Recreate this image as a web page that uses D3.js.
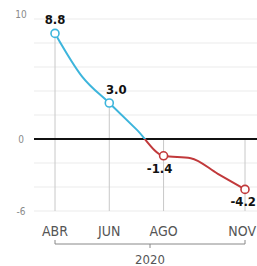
<!DOCTYPE html>
<html>
<head>
<meta charset="utf-8">
<script src="https://cdn.jsdelivr.net/npm/d3@7"></script>
<style>
  body { margin: 0; background: #fff; }
  text { font-family: "DejaVu Sans Condensed", "Liberation Sans Narrow", sans-serif; }
</style>
</head>
<body>
<div id="chart"></div>
<script>
var width = 257,
    height = 266

// monthly series, month number (4 = abril ... 11 = noviembre)
const months = [4, 5, 6, 7, 8, 9, 10, 11]
const values = [8.8, 5.2, 3.0, 0.8, -1.4, -1.6, -2.9, -4.2]

// labelled months
const tickMonths = [4, 6, 8, 11]
const tickLabels = ['ABR', 'JUN', 'AGO', 'NOV']
const yTicks = [10, 0, -6]
const gridValues = [10, 8, 6, 4, 2, 0, -2, -4, -6]
const yearLabel = '2020'

const data = months.map((m, i) => ({ m: m, v: values[i] }))

const svg = d3.select('#chart')
  .append('svg')
  .attr('width', width)
  .attr('height', height)

const x = d3.scaleLinear().domain([4, 11]).range([55, 245])
const y = d3.scaleLinear().domain([-6, 10]).range([211, 19])

const blue = '#3db5dc',
      red = '#c1393b'

// horizontal grid
svg.append('g')
  .selectAll('line')
  .data(gridValues.filter(d => d !== 0))
  .enter().append('line')
  .attr('x1', 34)
  .attr('x2', width)
  .attr('y1', d => y(d))
  .attr('y2', d => y(d))
  .attr('stroke', '#ececec')
  .attr('stroke-width', 1.2)

// drop lines for labelled months
svg.append('g')
  .selectAll('line')
  .data(tickMonths)
  .enter().append('line')
  .attr('x1', d => x(d))
  .attr('x2', d => x(d))
  .attr('y1', d => y(Math.max(0, values[months.indexOf(d)])))
  .attr('y2', y(-6))
  .attr('stroke', '#c8c8c8')
  .attr('stroke-width', 1)

// zero line
svg.append('line')
  .attr('x1', 34)
  .attr('x2', width)
  .attr('y1', y(0))
  .attr('y2', y(0))
  .attr('stroke', '#111')
  .attr('stroke-width', 2)

// y labels
svg.append('g')
  .selectAll('text')
  .data(yTicks)
  .enter().append('text')
  .attr('x', 21)
  .attr('y', d => y(d) + (d === 10 ? -1 : 4))
  .attr('text-anchor', 'middle')
  .attr('font-size', 10)
  .attr('fill', '#8a8a8a')
  .text(d => d)

// clip areas: above / below zero
const defs = svg.append('defs')
defs.append('clipPath').attr('id', 'pos')
  .append('rect')
  .attr('x', 0).attr('y', 0)
  .attr('width', width).attr('height', y(0))
defs.append('clipPath').attr('id', 'neg')
  .append('rect')
  .attr('x', 0).attr('y', y(0))
  .attr('width', width).attr('height', height - y(0))

const line = d3.line()
  .x(d => x(d.m))
  .y(d => y(d.v))
  .curve(d3.curveMonotoneX)

svg.append('path')
  .datum(data)
  .attr('d', line)
  .attr('fill', 'none')
  .attr('stroke', blue)
  .attr('stroke-width', 2)
  .attr('clip-path', 'url(#pos)')

svg.append('path')
  .datum(data)
  .attr('d', line)
  .attr('fill', 'none')
  .attr('stroke', red)
  .attr('stroke-width', 2)
  .attr('clip-path', 'url(#neg)')

// markers + value labels
const marked = data.filter(d => tickMonths.indexOf(d.m) >= 0)

svg.append('g')
  .selectAll('circle')
  .data(marked)
  .enter().append('circle')
  .attr('cx', d => x(d.m))
  .attr('cy', d => y(d.v))
  .attr('r', 4)
  .attr('fill', '#fff')
  .attr('stroke', d => d.v >= 0 ? blue : red)
  .attr('stroke-width', 1.6)

function labelX(d) {
  if (d.m === 6) return x(d.m) + 7
  if (d.m === 8) return x(d.m) - 4
  return x(d.m)
}

svg.append('g')
  .selectAll('text')
  .data(marked)
  .enter().append('text')
  .attr('x', d => d.m === 11 ? width - 1 : labelX(d))
  .attr('y', d => d.v >= 0 ? y(d.v) - 9 : y(d.v) + 17)
  .attr('text-anchor', d => d.m === 11 ? 'end' : 'middle')
  .attr('font-size', 13)
  .attr('font-weight', 'bold')
  .attr('fill', '#111')
  .text(d => d.v.toFixed(1))

// month labels
svg.append('g')
  .selectAll('text')
  .data(tickMonths)
  .enter().append('text')
  .attr('x', (d, i) => i === tickMonths.length - 1 ? width - 1 : x(d))
  .attr('y', 236)
  .attr('text-anchor', (d, i) => i === tickMonths.length - 1 ? 'end' : 'middle')
  .attr('font-size', 14)
  .attr('fill', '#555')
  .text((d, i) => tickLabels[i])

// year bracket
const bx0 = x(tickMonths[0]),
      bx1 = x(tickMonths[tickMonths.length - 1]),
      by = 244
svg.append('path')
  .attr('d', 'M' + bx0 + ',' + (by - 4) + 'V' + by + 'H' + bx1 + 'V' + (by - 4)
    + 'M' + ((bx0 + bx1) / 2) + ',' + by + 'V' + (by + 4))
  .attr('fill', 'none')
  .attr('stroke', '#888')
  .attr('stroke-width', 1)

svg.append('text')
  .attr('x', (bx0 + bx1) / 2)
  .attr('y', 264)
  .attr('text-anchor', 'middle')
  .attr('font-size', 13)
  .attr('fill', '#555')
  .text(yearLabel)
</script>
</body>
</html>
